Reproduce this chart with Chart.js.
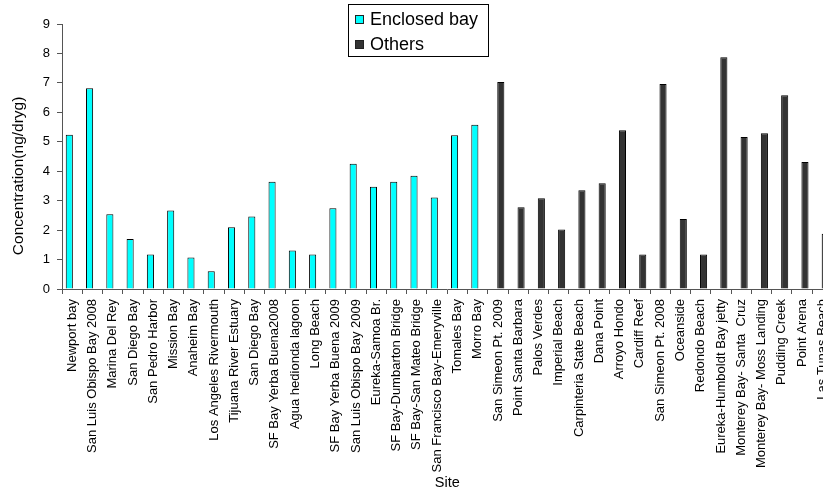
<!DOCTYPE html>
<html>
<head>
<meta charset="utf-8">
<script src="https://cdn.jsdelivr.net/npm/chart.js@4.4.1/dist/chart.umd.min.js"></script>
<style>
  html, body { margin: 0; padding: 0; overflow: hidden; background: #fff; }
  #wrap { width: 843px; height: 495px; }
</style>
</head>
<body>
<div id="wrap"><canvas id="chart" width="843" height="495"></canvas></div>
<script>
const enclosedSites = [
  'Newport bay', 'San Luis Obispo Bay 2008', 'Marina Del Rey', 'San Diego Bay',
  'San Pedro Harbor', 'Mission Bay', 'Anaheim Bay', 'Los Angeles Rivermouth',
  'Tijuana River Estuary', 'San Diego Bay', 'SF Bay Yerba Buena2008',
  'Agua hedionda lagoon', 'Long Beach', 'SF Bay Yerba Buena 2009',
  'San Luis Obispo Bay 2009', 'Eureka-Samoa Br.', 'SF Bay-Dumbarton Bridge',
  'SF Bay-San Mateo Bridge', 'San Francisco Bay-Emeryville', 'Tomales Bay', 'Morro Bay'
];
const enclosedValues = [
  5.24, 6.82, 2.54, 1.70, 1.17, 2.67, 1.07, 0.60, 2.10, 2.46, 3.64,
  1.31, 1.17, 2.74, 4.25, 3.47, 3.64, 3.85, 3.11, 5.22, 5.58
];
const otherSites = [
  'San Simeon Pt. 2009', 'Point Santa Barbara', 'Palos Verdes', 'Imperial Beach',
  'Carpinteria State Beach', 'Dana Point', 'Arroyo Hondo', 'Cardiff Reef',
  'San Simeon Pt. 2008', 'Oceanside', 'Redondo Beach', 'Eureka-Humboldt Bay jetty',
  'Monterey Bay- Santa  Cruz', 'Monterey Bay- Moss Landing', 'Pudding Creek',
  'Point Arena', 'Las Tunas Beach'
];
const otherValues = [
  7.03, 2.78, 3.08, 2.02, 3.35, 3.59, 5.39, 1.17, 6.96,
  2.38, 1.17, 7.87, 5.16, 5.29, 6.58, 4.31, 1.88
];
const yMin = 0;
const yMax = 9;
const yStep = 1;

const FONT = "'Liberation Sans', Arial, sans-serif";

// legend drawn as a framed box inside the plot, items stacked
const boxLegend = {
  id: 'boxLegend',
  afterDraw(chart, args, opts) {
    const ctx = chart.ctx;
    ctx.save();
    ctx.lineWidth = 1;
    ctx.strokeStyle = '#000';
    ctx.fillStyle = '#fff';
    ctx.fillRect(opts.x, opts.y, opts.width, opts.height);
    ctx.strokeRect(opts.x + 0.5, opts.y + 0.5, opts.width, opts.height);
    ctx.font = opts.font;
    ctx.textBaseline = 'middle';
    chart.data.datasets.forEach((ds, i) => {
      const cy = opts.y + opts.firstRow + i * opts.rowGap;
      ctx.fillStyle = ds.backgroundColor;
      ctx.fillRect(opts.x + 7, cy - 4.5, 9, 9);
      ctx.strokeStyle = '#222';
      ctx.strokeRect(opts.x + 7.5, cy - 4, 8, 8);
      ctx.fillStyle = '#000';
      ctx.fillText(ds.label, opts.x + 22, cy + 1);
    });
    ctx.restore();
  }
};

const labels = enclosedSites.concat(otherSites);

new Chart(document.getElementById('chart'), {
  type: 'bar',
  data: {
    labels: labels,
    datasets: [{
      label: 'Enclosed bay',
      data: enclosedValues.concat(otherSites.map(() => null)),
      backgroundColor: '#00ffff',
      borderColor: '#000',
      borderWidth: 1,
      borderSkipped: 'bottom'
    }, {
      label: 'Others',
      data: enclosedSites.map(() => null).concat(otherValues),
      backgroundColor: '#333333',
      borderColor: '#000',
      borderWidth: 1,
      borderSkipped: 'bottom'
    }]
  },
  options: {
    responsive: false,
    animation: false,
    categoryPercentage: 0.56,
    barPercentage: 1.25,
    layout: { padding: { top: 24, right: 0, bottom: 0, left: 0 } },
    plugins: {
      legend: { display: false },
      tooltip: { enabled: false },
      boxLegend: {
        x: 348, y: 4, width: 140, height: 52,
        firstRow: 15.5, rowGap: 25,
        font: '18px ' + FONT
      }
    },
    scales: {
      x: {
        grid: { display: true, drawOnChartArea: false, offset: true, tickLength: 5, color: '#555' },
        border: { display: true, color: '#555' },
        ticks: {
          autoSkip: false, minRotation: 90, maxRotation: 90, padding: 5,
          color: '#000', font: { family: FONT, size: 13 }
        },
        title: {
          display: true, text: 'Site', color: '#000',
          font: { family: FONT, size: 14.5 }, padding: { top: 4, bottom: 3 }
        },
        afterFit(scale) { scale.height = 206; }
      },
      y: {
        min: yMin, max: yMax,
        grid: { display: true, drawOnChartArea: false, tickLength: 5, color: '#555' },
        border: { display: true, color: '#555' },
        ticks: {
          stepSize: yStep, padding: 7, color: '#000',
          font: { family: FONT, size: 13 }
        },
        title: {
          display: true, text: 'Concentration(ng/dryg)' + '         ', color: '#000',
          font: { family: FONT, size: 15.5 }, padding: { top: 9, bottom: 0 }
        },
        afterFit(scale) { scale.width = 62; }
      }
    }
  },
  plugins: [boxLegend]
});
</script>
</body>
</html>
